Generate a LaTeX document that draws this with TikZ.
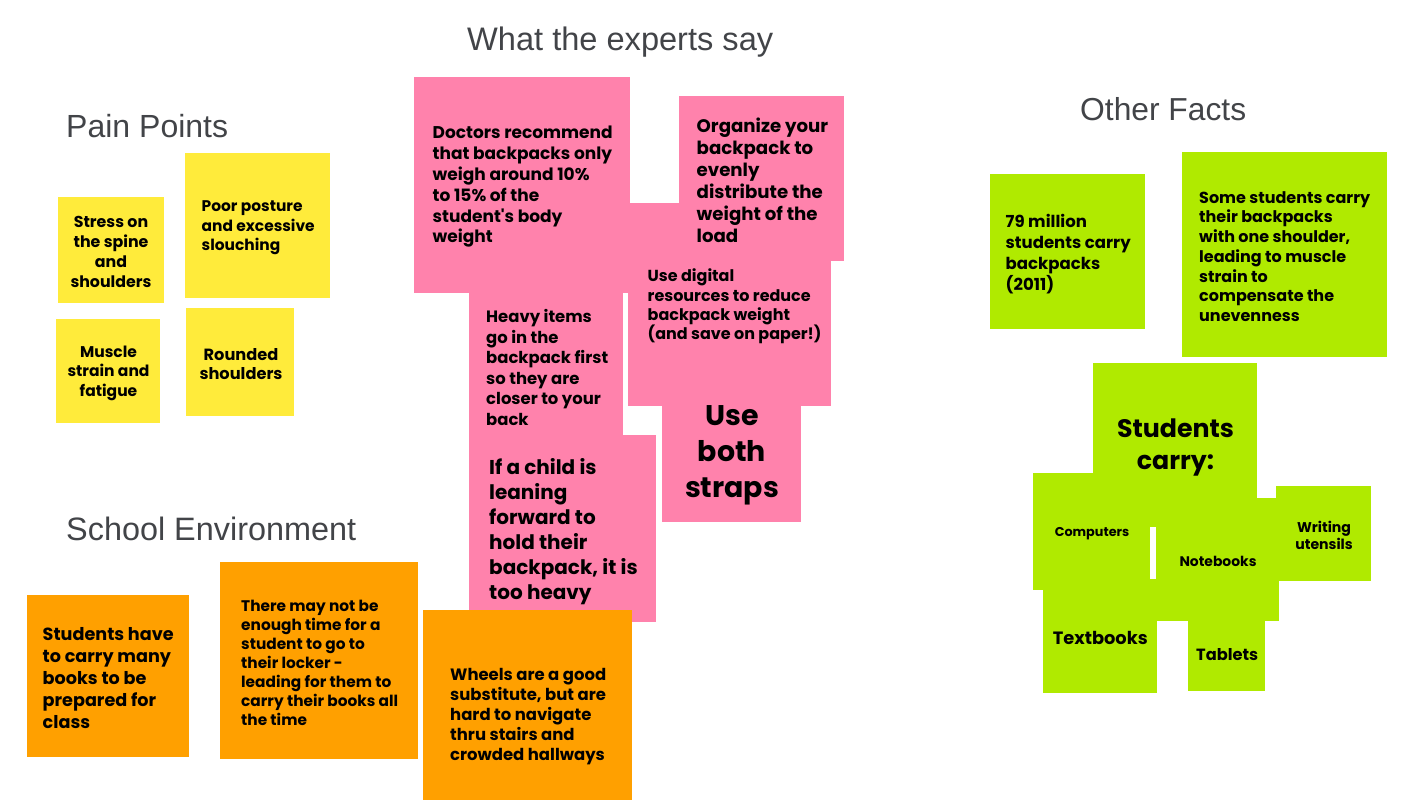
\documentclass[tikz,border=0pt]{standalone}
\usepackage{fontspec}
\setmainfont{Liberation Sans}
\newfontfamily\notefam{Poppins}
\newfontfamily\headfam{Liberation Sans}
\definecolor{yellowc}{RGB}{255,235,59}
\definecolor{pinkc}{RGB}{255,130,172}
\definecolor{orangec}{RGB}{255,160,0}
\definecolor{greenc}{RGB}{176,234,0}
\definecolor{headc}{RGB}{66,68,72}
\newlength\fitlen
\newcommand\fitfont[3]{\settowidth\fitlen{\fontsize{10pt}{12pt}\selectfont #1}\pgfmathsetmacro\fitsz{10*#2/\fitlen}\fontsize{\fitsz pt}{#3pt}\selectfont}
\newcommand\nf[3]{\notefam\bfseries\fitfont{#1}{#2}{#3}}
\tikzset{
  note/.style={rectangle, inner sep=0pt, draw=none},
  ntext/.style={inner sep=0pt, align=left, text=black, yshift=-3pt},
  ctext/.style={inner sep=0pt, align=center, text=black, yshift=-3pt},
  heading/.style={inner sep=0pt, anchor=west, text=headc, text depth=0pt}
}
\begin{document}
\begin{tikzpicture}[x=1pt,y=-1pt]
\clip (0,0) rectangle (1422,800);
\fill[white] (0,0) rectangle (1422,800);

% headings
\node[heading, text height=21pt, font={\headfam\fitfont{What the experts say}{306}{30}}] (h1) at (467,40.5) {What the experts say};
\node[heading, text height=22pt, font={\headfam\fitfont{Pain Points}{162}{30}}] (h2) at (66,126) {Pain Points};
\node[heading, text height=21pt, font={\headfam\fitfont{Other Facts}{166}{30}}] (h3) at (1080,109.5) {Other Facts};
\node[heading, text height=21pt, font={\headfam\fitfont{School Environment}{290}{30}}] (h4) at (66,529.5) {School Environment};

% ---------- yellow: pain points
\node[note, fill=yellowc, minimum width=106, minimum height=106] (stress) at (111,250) {};
\node[ctext, font={\nf{shoulders}{81}{20}}] (stresst) at (111,249) {Stress on\\the spine\\and\\shoulders};
\node[note, fill=yellowc, minimum width=145, minimum height=145] (poor) at (257.5,225.5) {};
\node[ntext, anchor=west, font={\nf{and excessive}{113}{19.5}}] (poort) at (201.5,225) {Poor posture\\and excessive\\slouching};
\node[note, fill=yellowc, minimum width=104, minimum height=104] (muscle) at (108,371) {};
\node[ctext, font={\nf{strain and}{82}{19.5}}] (musclet) at (108.5,370) {Muscle\\strain and\\fatigue};
\node[note, fill=yellowc, minimum width=108, minimum height=108] (round) at (240,362) {};
\node[ctext, font={\nf{shoulders}{83}{19.5}}] (roundt) at (241,361) {Rounded\\shoulders};

% ---------- orange: school environment
\node[note, fill=orangec, minimum width=162, minimum height=162] (books) at (108,676) {};
\node[ntext, anchor=west, font={\nf{Students have}{131}{21.8}}] (bookst) at (42.5,675) {Students have\\to carry many\\books to be\\prepared for\\class};
\node[note, fill=orangec, minimum width=198, minimum height=197] (locker) at (319,660.5) {};
\node[ntext, anchor=west, font={\nf{carry their books all}{157}{19}}] (lockert) at (241,660) {There may not be\\enough time for a\\student to go to\\their locker -\\leading for them to\\carry their books all\\the time};

% ---------- pink: experts
\node[note, fill=pinkc, minimum width=154, minimum height=154] (heavy) at (546,359) {};
\node[ntext, anchor=west, font={\nf{backpack first}{122}{20.5}}] (heavyt) at (486,364.5) {Heavy items\\go in the\\backpack first\\so they are\\closer to your\\back};
\node[note, fill=pinkc, minimum width=216, minimum height=216] (doc) at (522,185) {};
\node[ntext, anchor=west, font={\nf{Doctors recommend}{180}{20.8}}] (doct) at (432.5,184) {Doctors recommend\\that backpacks only\\weigh around 10\%\\to 15\% of the\\student's body\\weight};
\node[note, fill=pinkc, minimum width=139, minimum height=139] (straps) at (731.5,452.5) {};
\node[note, fill=pinkc, minimum width=203, minimum height=203] (digital) at (729.5,304.5) {};
\node[ntext, anchor=west, font={\nf{resources to reduce}{163}{19.4}}] (digitalt) at (647.5,303.5) {Use digital\\resources to reduce\\backpack weight\\(and save on paper!)};
\node[ctext, font={\nf{straps}{94}{36.3}}, yshift=-1pt] (strapst) at (732,451.5) {Use\\both\\straps};
\node[note, fill=pinkc, minimum width=165, minimum height=165] (org) at (761.5,178.5) {};
\node[ntext, anchor=west, font={\nf{Organize your}{131.5}{22}}] (orgt) at (696.5,177.5) {Organize your\\backpack to\\evenly\\distribute the\\weight of the\\load};
\node[note, fill=pinkc, minimum width=187, minimum height=187] (child) at (562.5,528.5) {};
\node[ntext, anchor=west, font={\nf{backpack, it is}{148.5}{24.9}}] (childt) at (489,528.5) {If a child is\\leaning\\forward to\\hold their\\backpack, it is\\too heavy};

% wheels (orange, over the pink note)
\node[note, fill=orangec, minimum width=209, minimum height=209] (wheels) at (527.5,714.5) {};
\node[ntext, anchor=west, font={\nf{Wheels are a good}{156}{20.2}}] (wheelst) at (450,713.5) {Wheels are a good\\substitute, but are\\hard to navigate\\thru stairs and\\crowded hallways};

% ---------- green: other facts
\node[note, fill=greenc, minimum width=155, minimum height=155] (m79) at (1067.5,251.5) {};
\node[ntext, anchor=west, font={\nf{students carry}{125}{21}}] (m79t) at (1005.5,251.5) {79 million\\students carry\\backpacks\\(2011)};
\node[note, fill=greenc, minimum width=205, minimum height=205] (some) at (1284.5,254.5) {};
\node[ntext, anchor=west, font={\nf{Some students carry}{171}{19.7}}] (somet) at (1199,253.5) {Some students carry\\their backpacks\\with one shoulder,\\leading to muscle\\strain to\\compensate the\\unevenness};

\node[note, fill=greenc, minimum width=164, minimum height=164] (carry) at (1175,445) {};
\node[ctext, font={\nf{Students}{117}{31.7}}] (carryt) at (1175.5,444.5) {Students\\carry:};
\node[note, fill=greenc, minimum width=117, minimum height=117] (comp) at (1091.5,531.5) {};
\node[ctext, font={\nf{Computers}{74.5}{16}}] (compt) at (1092,530.5) {Computers};
\node[note, fill=greenc, minimum width=114, minimum height=114] (text) at (1100,636) {};
\node[ctext, font={\nf{Textbooks}{95}{18}}] (textt) at (1100.3,635) {Textbooks};
\node[note, fill=greenc, minimum width=77, minimum height=77] (tab) at (1226.5,652.5) {};
\node[ctext, font={\nf{Tablets}{62}{18}}] (tabt) at (1227.2,652) {Tablets};
\node[note, fill=greenc, minimum width=123, minimum height=123] (notebk) at (1217.5,559.5) {};
\node[ctext, font={\nf{Notebooks}{77}{16}}] (notebkt) at (1218,558) {Notebooks};
\node[note, fill=greenc, minimum width=95, minimum height=95] (writ) at (1323.5,533.5) {};
\node[ctext, font={\nf{utensils}{57.5}{17.7}}] (writt) at (1324,532.5) {Writing\\utensils};
\end{tikzpicture}
\end{document}
